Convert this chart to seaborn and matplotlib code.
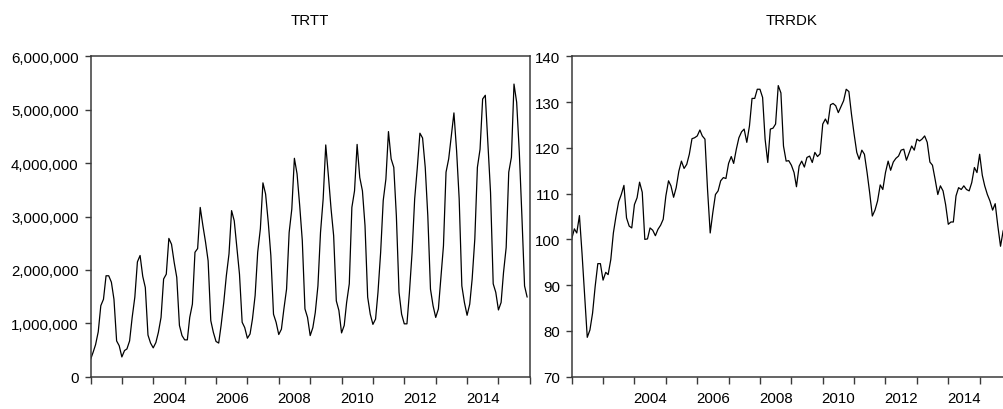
import numpy as np
import pandas as pd
import matplotlib
matplotlib.use("Agg")
import matplotlib.pyplot as plt
import matplotlib.dates as mdates
import matplotlib.ticker as mticker
import seaborn as sns

# monthly series, 2002M01 - 2015M12
months = pd.date_range("2002-01-01", periods=168, freq="MS")

# TRTT in millions
trtt_m = [
    0.32, 0.46, 0.60, 0.84, 1.33, 1.45, 1.89, 1.89, 1.77, 1.45, 0.67, 0.58,
    0.37, 0.49, 0.52, 0.67, 1.11, 1.49, 2.15, 2.27, 1.88, 1.67, 0.78, 0.63,
    0.54, 0.64, 0.83, 1.11, 1.83, 1.92, 2.59, 2.48, 2.14, 1.86, 0.96, 0.77,
    0.69, 0.69, 1.11, 1.36, 2.33, 2.40, 3.17, 2.83, 2.52, 2.17, 1.05, 0.83,
    0.66, 0.63, 0.96, 1.39, 1.89, 2.30, 3.11, 2.92, 2.42, 1.92, 1.02, 0.92,
    0.72, 0.80, 1.08, 1.52, 2.33, 2.77, 3.63, 3.42, 2.89, 2.27, 1.17, 1.02,
    0.79, 0.89, 1.27, 1.64, 2.70, 3.14, 4.09, 3.80, 3.20, 2.55, 1.27, 1.11,
    0.77, 0.92, 1.20, 1.70, 2.70, 3.33, 4.34, 3.76, 3.14, 2.64, 1.42, 1.24,
    0.82, 0.96, 1.39, 1.74, 3.17, 3.48, 4.35, 3.73, 3.48, 2.83, 1.49, 1.17,
    0.98, 1.08, 1.58, 2.33, 3.30, 3.70, 4.59, 4.08, 3.92, 3.01, 1.58, 1.17,
    0.99, 0.99, 1.58, 2.33, 3.33, 3.92, 4.56, 4.47, 3.92, 3.01, 1.64, 1.33,
    1.11, 1.27, 1.83, 2.45, 3.83, 4.08, 4.51, 4.94, 4.23, 3.33, 1.70, 1.39,
    1.15, 1.36, 1.83, 2.58, 3.92, 4.26, 5.20, 5.27, 4.33, 3.45, 1.74, 1.58,
    1.25, 1.39, 1.95, 2.42, 3.83, 4.11, 5.48, 5.14, 4.20, 3.01, 1.70, 1.49,
]

trrdk = [
    100.1, 102.3, 101.4, 105.2, 97.0, 87.6, 78.6, 80.2, 83.9, 89.7, 94.7, 94.7,
    91.1, 92.8, 92.3, 95.6, 101.4, 105.1, 108.2, 109.8, 111.8, 104.7, 102.9, 102.5,
    107.6, 109.1, 112.5, 110.3, 100.0, 100.1, 102.5, 102.0, 100.8, 102.2, 103.1, 104.4,
    109.5, 112.8, 111.7, 109.2, 111.3, 114.9, 117.1, 115.5, 116.4, 118.6, 122.0, 122.2,
    122.6, 123.9, 122.6, 121.9, 110.9, 101.4, 105.8, 109.8, 110.6, 112.8, 113.5, 113.3,
    116.6, 118.1, 116.6, 119.7, 122.2, 123.5, 124.1, 121.2, 124.8, 130.8, 130.8, 132.8,
    132.8, 131.0, 121.9, 116.8, 124.1, 124.3, 125.2, 133.6, 132.0, 120.4, 117.1, 117.2,
    116.2, 114.6, 111.5, 116.0, 117.1, 115.8, 117.9, 118.2, 116.8, 119.0, 118.1, 118.7,
    125.2, 126.3, 125.2, 129.4, 129.7, 129.2, 127.7, 129.0, 130.3, 132.8, 132.3, 127.4,
    123.0, 119.0, 117.5, 119.5, 118.6, 114.6, 110.2, 105.1, 106.4, 108.4, 111.9, 110.9,
    114.6, 117.1, 115.1, 116.9, 117.7, 118.2, 119.5, 119.7, 117.3, 118.8, 120.4, 119.5,
    121.9, 121.5, 121.9, 122.6, 121.2, 116.9, 116.2, 113.1, 109.8, 111.7, 110.6, 107.6,
    103.3, 103.8, 103.8, 109.5, 111.3, 110.9, 111.7, 110.9, 110.6, 112.4, 115.7, 114.6,
    118.6, 114.0, 111.7, 109.8, 108.4, 106.4, 107.8, 102.9, 98.5, 101.8, 103.5, 104.5,
]

year_labels = ["2004", "2006", "2008", "2010", "2012", "2014"]

df = pd.DataFrame({"month": months, "TRTT": np.array(trtt_m) * 1e6, "TRRDK": trrdk})

sns.set_style("ticks")
plt.rcParams["font.family"] = ["Liberation Sans", "DejaVu Sans"]
plt.rcParams["axes.edgecolor"] = "#3a3a3a"
plt.rcParams["axes.linewidth"] = 1.1

fig = plt.figure(figsize=(10.04, 4.10), dpi=100)
ax1 = fig.add_axes([90.5 / 1004, 32.3 / 410, 439.3 / 1004, 320.4 / 410])
ax2 = fig.add_axes([571.7 / 1004, 32.3 / 410, 439.3 / 1004, 320.4 / 410])

sns.lineplot(data=df, x="month", y="TRTT", ax=ax1, color="black", linewidth=0.9)
sns.lineplot(data=df, x="month", y="TRRDK", ax=ax2, color="black", linewidth=0.9)

year_starts = [mdates.date2num(pd.Timestamp(f"{y}-01-01")) for y in range(2002, 2017)]
label_pos = [mdates.date2num(pd.Timestamp(f"{y}-07-02")) for y in year_labels]

for ax, title in [(ax1, "TRTT"), (ax2, "TRRDK")]:
    ax.set_xlim(year_starts[0], year_starts[-1])
    ax.set_xticks(year_starts)
    ax.set_xticklabels([])
    ax.set_xticks(label_pos, minor=True)
    ax.set_xticklabels(year_labels, minor=True)
    ax.tick_params(axis="x", which="major", length=5, width=1, color="#3a3a3a")
    ax.tick_params(axis="x", which="minor", length=0, pad=10.5, labelsize=10.8,
                   labelcolor="black")
    ax.tick_params(axis="y", length=4.3, width=1, pad=4.3, labelsize=10.8,
                   color="#3a3a3a", labelcolor="black")
    ax.set_xlabel("")
    ax.set_ylabel("")
    ax.set_title(title, fontsize=10.8, pad=23, color="black")
    for s in ax.spines.values():
        s.set_visible(True)

ax1.set_ylim(0, 6e6)
ax1.set_yticks(np.arange(0, 6e6 + 1, 1e6))
ax1.yaxis.set_major_formatter(mticker.FuncFormatter(lambda v, p: f"{int(v):,}"))

ax2.set_ylim(70, 140)
ax2.set_yticks(np.arange(70, 141, 10))

fig.savefig("out.png", dpi=100)
